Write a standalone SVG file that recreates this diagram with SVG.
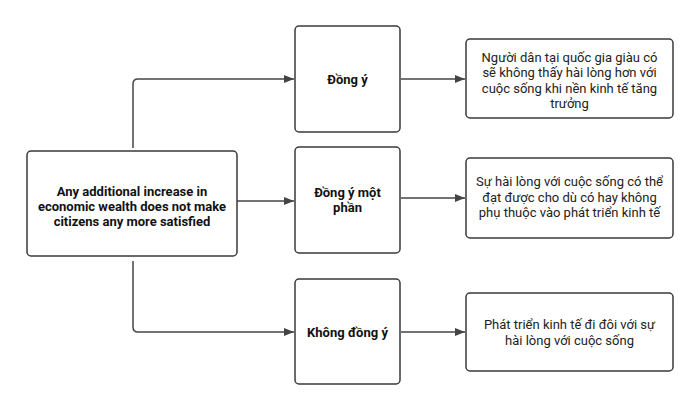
<svg xmlns="http://www.w3.org/2000/svg" width="700" height="412" viewBox="0 0 700 412">
<style>
.box{fill:#fff;stroke:#3a3a3a;stroke-width:1.5}
.t{font-family:Roboto,"Liberation Sans",sans-serif;font-size:13px;fill:#222;text-anchor:middle}
.b{font-weight:bold;fill:#111}
.c{fill:none;stroke:#444;stroke-width:1.5}
</style>
<defs>
<marker id="ah" markerWidth="10" markerHeight="8" refX="10" refY="4" orient="auto" markerUnits="userSpaceOnUse">
<path d="M0,0 L10,4 L0,8 Z" fill="#444"/>
</marker>
</defs>
<rect width="700" height="412" fill="#fff"/>
<g id="connectors">
<path class="c" d="M133,148 V84 Q133,79 138,79 H294" marker-end="url(#ah)"/>
<path class="c" d="M237,201 H294" marker-end="url(#ah)"/>
<path class="c" d="M133,261 V327 Q133,332 138,332 H294" marker-end="url(#ah)"/>
<path class="c" d="M401,79 H465" marker-end="url(#ah)"/>
<path class="c" d="M401,198 H465" marker-end="url(#ah)"/>
<path class="c" d="M401,332 H465" marker-end="url(#ah)"/>
</g>
<g id="main">
<rect class="box" x="27" y="151" width="210" height="105" rx="4"/>
<text class="t b" x="132" y="196">Any additional increase in</text>
<text class="t b" x="132" y="211">economic wealth does not make</text>
<text class="t b" x="132" y="226">citizens any more satisfied</text>
</g>
<g id="dongy">
<rect class="box" x="295" y="26" width="105" height="106" rx="4"/>
<text class="t b" x="347.5" y="83.5">Đồng ý</text>
</g>
<g id="dongymotphan">
<rect class="box" x="295" y="147" width="105" height="106" rx="4"/>
<text class="t b" x="347.5" y="197">Đồng ý một</text>
<text class="t b" x="347.5" y="212">phần</text>
</g>
<g id="khongdongy">
<rect class="box" x="295" y="279" width="105" height="105" rx="4"/>
<text class="t b" x="347.5" y="336.5">Không đồng ý</text>
</g>
<g id="res1">
<rect class="box" x="466" y="39" width="207" height="79" rx="4"/>
<text class="t" x="569.5" y="61.5">Người dân tại quốc gia giàu có</text>
<text class="t" x="569.5" y="77">sẽ không thấy hài lòng hơn với</text>
<text class="t" x="569.5" y="92.5">cuộc sống khi nền kinh tế tăng</text>
<text class="t" x="569.5" y="108">trưởng</text>
</g>
<g id="res2">
<rect class="box" x="466" y="158" width="207" height="80" rx="4"/>
<text class="t" x="569.5" y="186">Sự hài lòng với cuộc sống có thể</text>
<text class="t" x="569.5" y="201.5">đạt được cho dù có hay không</text>
<text class="t" x="569.5" y="217">phụ thuộc vào phát triển kinh tế</text>
</g>
<g id="res3">
<rect class="box" x="466" y="293" width="207" height="78" rx="4"/>
<text class="t" x="569.5" y="329">Phát triển kinh tế đi đôi với sự</text>
<text class="t" x="569.5" y="344.5">hài lòng với cuộc sống</text>
</g>
</svg>
